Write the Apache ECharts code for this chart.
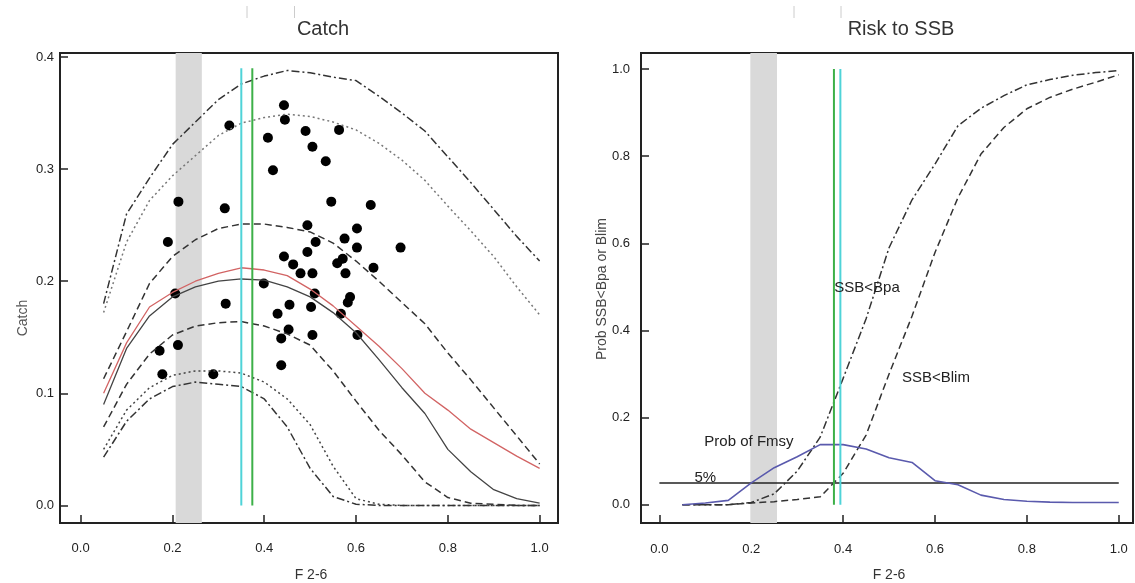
<!DOCTYPE html>
<html>
<head>
<meta charset="utf-8">
<title>Catch and Risk to SSB</title>
<script src="https://cdn.jsdelivr.net/npm/echarts@6/dist/echarts.min.js"></script>
<style>
  html, body { margin: 0; padding: 0; background: #fff; }
  #chart { width: 1135px; height: 583px; }
</style>
</head>
<body>
<div id="chart"></div>
<script>
// F values used by every curve
const fGrid = [0.05, 0.1, 0.15, 0.2, 0.25, 0.3, 0.35, 0.4, 0.45, 0.5,
               0.55, 0.6, 0.65, 0.7, 0.75, 0.8, 0.85, 0.9, 0.95, 1.0];

// Catch percentiles
const catchP95 = [0.18, 0.26, 0.292, 0.322, 0.342, 0.362, 0.376, 0.383, 0.388, 0.386,
                  0.382, 0.379, 0.365, 0.35, 0.334, 0.311, 0.288, 0.264, 0.24, 0.218];
const catchP90 = [0.172, 0.235, 0.272, 0.294, 0.312, 0.33, 0.341, 0.346, 0.349, 0.347,
                  0.342, 0.335, 0.323, 0.308, 0.29, 0.267, 0.245, 0.222, 0.195, 0.17];
const catchP75 = [0.113, 0.155, 0.198, 0.222, 0.237, 0.247, 0.251, 0.251, 0.248, 0.244,
                  0.234, 0.218, 0.2, 0.181, 0.162, 0.136, 0.112, 0.087, 0.062, 0.037];
const catchMean = [0.1, 0.145, 0.177, 0.19, 0.2, 0.207, 0.212, 0.21, 0.205, 0.193,
                   0.178, 0.16, 0.142, 0.122, 0.1, 0.085, 0.068, 0.056, 0.044, 0.033];
const catchMedian = [0.09, 0.14, 0.169, 0.186, 0.195, 0.2, 0.202, 0.201, 0.195, 0.186,
                     0.172, 0.154, 0.13, 0.105, 0.082, 0.05, 0.03, 0.014, 0.006, 0.002];
const catchP25 = [0.07, 0.108, 0.135, 0.152, 0.16, 0.163, 0.164, 0.16, 0.153, 0.143,
                  0.12, 0.093, 0.067, 0.045, 0.021, 0.007, 0.002, 0.001, 0, 0];
const catchP10 = [0.05, 0.085, 0.105, 0.116, 0.12, 0.12, 0.118, 0.11, 0.095, 0.072,
                  0.035, 0.006, 0.001, 0, 0, 0, 0, 0, 0, 0];
const catchP05 = [0.043, 0.075, 0.095, 0.106, 0.11, 0.108, 0.106, 0.095, 0.07, 0.033,
                  0.008, 0.001, 0, 0, 0, 0, 0, 0, 0, 0];

// observed catch points [F, catch]
const catchObs = [
  [0.213, 0.271], [0.19, 0.235], [0.324, 0.339], [0.314, 0.265], [0.443, 0.357],
  [0.445, 0.344], [0.408, 0.328], [0.49, 0.334], [0.563, 0.335], [0.505, 0.32],
  [0.419, 0.299], [0.534, 0.307], [0.546, 0.271], [0.632, 0.268], [0.494, 0.25],
  [0.512, 0.235], [0.575, 0.238], [0.602, 0.247], [0.602, 0.23], [0.697, 0.23],
  [0.494, 0.226], [0.443, 0.222], [0.463, 0.215], [0.559, 0.216], [0.571, 0.22],
  [0.638, 0.212], [0.479, 0.207], [0.505, 0.207], [0.577, 0.207], [0.399, 0.198],
  [0.206, 0.189], [0.51, 0.189], [0.587, 0.186], [0.316, 0.18], [0.429, 0.171],
  [0.455, 0.179], [0.502, 0.177], [0.567, 0.171], [0.582, 0.181], [0.453, 0.157],
  [0.437, 0.149], [0.505, 0.152], [0.603, 0.152], [0.172, 0.138], [0.212, 0.143],
  [0.178, 0.117], [0.289, 0.117], [0.437, 0.125]
];

// risk curves
const probFmsy = [0, 0.004, 0.01, 0.05, 0.085, 0.11, 0.138, 0.138, 0.128, 0.108,
                  0.097, 0.055, 0.046, 0.022, 0.012, 0.008, 0.006, 0.005, 0.005, 0.005];
const probBpa = [0, 0, 0, 0.005, 0.025, 0.077, 0.155, 0.29, 0.427, 0.59,
                 0.7, 0.782, 0.87, 0.91, 0.939, 0.964, 0.976, 0.986, 0.992, 0.997];
const probBlim = [0, 0, 0, 0.004, 0.007, 0.012, 0.018, 0.072, 0.16, 0.3,
                  0.433, 0.579, 0.705, 0.805, 0.866, 0.909, 0.935, 0.954, 0.97, 0.987];

// reference F ranges / lines
const bandCatch = [0.207, 0.264];
const bandRisk = [0.198, 0.256];
const fCyanCatch = 0.35, fGreenCatch = 0.374, topCatch = 0.39;
const fGreenRisk = 0.38, fCyanRisk = 0.394;
const riskLimit = 0.05;

// tick labels
const fTicks = [0, 0.2, 0.4, 0.6, 0.8, 1.0];
const catchTicks = [0, 0.1, 0.2, 0.3, 0.4];
const riskTicks = [0, 0.2, 0.4, 0.6, 0.8, 1.0];

// text placed on the risk panel
const riskNotes = [
  [0.1, 0.062, '5%'],
  [0.195, 0.145, 'Prob of Fmsy'],
  [0.452, 0.497, 'SSB<Bpa'],
  [0.602, 0.291, 'SSB<Blim']
];

const font = '"Liberation Sans", Arial, sans-serif';
const pair = (xs, ys) => xs.map((x, i) => [x, ys[i]]);

function valueAxis(gridIndex, min, max, ticks, margin) {
  return {
    type: 'value',
    gridIndex: gridIndex,
    min: min,
    max: max,
    axisLine: { show: false, onZero: false },
    splitLine: { show: false },
    axisTick: {
      inside: true,
      length: 8,
      customValues: ticks,
      lineStyle: { color: '#222', width: 1.5 }
    },
    axisLabel: {
      customValues: ticks,
      formatter: v => v.toFixed(1),
      margin: margin,
      color: '#222',
      fontSize: 13,
      fontFamily: font
    }
  };
}

function curve(name, data, grid, color, type, width) {
  return {
    name: name,
    type: 'line',
    xAxisIndex: grid,
    yAxisIndex: grid,
    data: data,
    showSymbol: false,
    silent: true,
    z: 3,
    lineStyle: { color: color, type: type, width: width || 1.5 }
  };
}

const dashDot = [8, 3, 2, 3];
const dotted = [2, 3];
const dashed = [7, 4];

let chart = echarts.init(document.getElementById('chart'));
const option = {
  animation: false,
  backgroundColor: '#fff',
  grid: [
    { left: 60, top: 53, width: 498, height: 470, show: true, borderColor: '#222', borderWidth: 2, outerBoundsMode: 'none' },
    { left: 641, top: 53, width: 492, height: 470, show: true, borderColor: '#222', borderWidth: 2, outerBoundsMode: 'none' }
  ],
  xAxis: [
    valueAxis(0, -0.045, 1.04, fTicks, 19),
    valueAxis(1, -0.04, 1.031, fTicks, 20)
  ],
  yAxis: [
    valueAxis(0, -0.0157, 0.4036, catchTicks, 6),
    valueAxis(1, -0.042, 1.037, riskTicks, 11)
  ],
  graphic: [
    { type: 'text', x: 323, y: 29, style: { text: 'Catch', font: '20px ' + font, fill: '#333', textAlign: 'center', textVerticalAlign: 'middle' } },
    { type: 'text', x: 901, y: 29, style: { text: 'Risk to SSB', font: '20px ' + font, fill: '#333', textAlign: 'center', textVerticalAlign: 'middle' } },
    { type: 'text', x: 311, y: 575, style: { text: 'F 2-6', font: '14px ' + font, fill: '#333', textAlign: 'center', textVerticalAlign: 'middle' } },
    { type: 'text', x: 889, y: 575, style: { text: 'F 2-6', font: '14px ' + font, fill: '#333', textAlign: 'center', textVerticalAlign: 'middle' } },
    { type: 'text', x: 23, y: 318, rotation: Math.PI / 2, style: { text: 'Catch', font: '14px ' + font, fill: '#555', textAlign: 'center', textVerticalAlign: 'middle' } },
    { type: 'text', x: 602, y: 289, rotation: Math.PI / 2, style: { text: 'Prob SSB<Bpa or Blim', font: '14px ' + font, fill: '#444', textAlign: 'center', textVerticalAlign: 'middle' } },
    // faint marks along the top edge of the scan
    { type: 'line', shape: { x1: 247, y1: 6, x2: 247, y2: 18 }, style: { stroke: '#ccc', lineWidth: 1 } },
    { type: 'line', shape: { x1: 294.5, y1: 6, x2: 294.5, y2: 18 }, style: { stroke: '#ccc', lineWidth: 1 } },
    { type: 'line', shape: { x1: 794, y1: 6, x2: 794, y2: 18 }, style: { stroke: '#ccc', lineWidth: 1 } },
    { type: 'line', shape: { x1: 841, y1: 6, x2: 841, y2: 18 }, style: { stroke: '#ccc', lineWidth: 1 } }
  ],
  series: [
    {
      name: 'observed',
      type: 'scatter',
      xAxisIndex: 0,
      yAxisIndex: 0,
      data: catchObs,
      symbolSize: 10,
      silent: true,
      z: 2,
      itemStyle: { color: '#000', opacity: 1 },
      markArea: {
        silent: true,
        itemStyle: { color: '#d9d9d9' },
        data: [[{ xAxis: bandCatch[0] }, { xAxis: bandCatch[1] }]]
      }
    },
    curve('p95', pair(fGrid, catchP95), 0, '#333', dashDot),
    curve('p90', pair(fGrid, catchP90), 0, '#777', dotted),
    curve('p75', pair(fGrid, catchP75), 0, '#333', dashed),
    curve('mean', pair(fGrid, catchMean), 0, '#d26464', 'solid', 1.3),
    curve('median', pair(fGrid, catchMedian), 0, '#444', 'solid', 1.3),
    curve('p25', pair(fGrid, catchP25), 0, '#333', dashed),
    curve('p10', pair(fGrid, catchP10), 0, '#444', dotted),
    curve('p05', pair(fGrid, catchP05), 0, '#333', dashDot),
    curve('cyanC', [[fCyanCatch, 0], [fCyanCatch, topCatch]], 0, '#4fd3d8', 'solid', 2),
    curve('greenC', [[fGreenCatch, 0], [fGreenCatch, topCatch]], 0, '#3db048', 'solid', 2),

    {
      name: 'bandR',
      type: 'line',
      xAxisIndex: 1,
      yAxisIndex: 1,
      data: [],
      silent: true,
      markArea: {
        silent: true,
        itemStyle: { color: '#d9d9d9' },
        data: [[{ xAxis: bandRisk[0] }, { xAxis: bandRisk[1] }]]
      }
    },
    curve('limit', [[0, riskLimit], [1, riskLimit]], 1, '#222', 'solid', 1.5),
    curve('Bpa', pair(fGrid, probBpa), 1, '#333', dashDot),
    curve('Blim', pair(fGrid, probBlim), 1, '#333', dashed),
    curve('Fmsy', pair(fGrid, probFmsy), 1, '#5a5aad', 'solid', 1.6),
    curve('greenR', [[fGreenRisk, 0], [fGreenRisk, 1]], 1, '#3db048', 'solid', 2),
    curve('cyanR', [[fCyanRisk, 0], [fCyanRisk, 1]], 1, '#4fd3d8', 'solid', 2),
    {
      name: 'notes',
      type: 'scatter',
      xAxisIndex: 1,
      yAxisIndex: 1,
      data: riskNotes,
      symbolSize: 2,
      silent: true,
      z: 5,
      itemStyle: { color: 'rgba(0,0,0,0)', opacity: 1 },
      label: {
        show: true,
        position: 'inside',
        formatter: p => p.data[2],
        color: '#222',
        opacity: 1,
        fontSize: 15,
        fontFamily: font
      }
    }
  ]
};
chart.setOption(option);
</script>
</body>
</html>
